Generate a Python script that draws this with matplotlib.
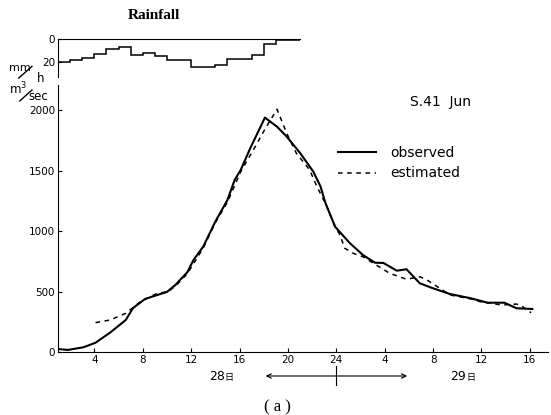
import matplotlib
matplotlib.use('Agg')
import matplotlib.pyplot as plt
from matplotlib.lines import Line2D

# hours counted from 0:00 on the 28th
rain_edges = list(range(1, 22))
rain_mm = [20, 19, 17, 13, 9, 7, 14, 12, 15, 19, 19, 25, 25, 23, 18, 18, 14, 4, 0.5, 0.5]

obs_t = [1.0, 1.8, 3.1, 4.1, 5.3, 6.6, 7.2, 8.2, 9.2, 10.0, 10.7, 11.7, 12.2, 13.0, 14.0,
         15.0, 15.6, 16.1, 16.9, 18.1, 19.1, 19.9, 21.0, 22.1, 22.7, 23.1, 23.9, 25.1,
         26.2, 27.2, 27.9, 29.0, 29.8, 30.9, 32.0, 33.4, 35.1, 36.5, 37.9, 38.9, 40.2]
obs_q = [25, 17, 39, 77, 160, 265, 364, 439, 472, 497, 555, 662, 762, 872, 1079,
         1258, 1424, 1507, 1689, 1940, 1865, 1783, 1648, 1493, 1369, 1234, 1037, 903,
         803, 739, 737, 673, 685, 569, 527, 480, 445, 408, 408, 362, 356]

est_t = [4.1, 5.3, 6.6, 7.8, 9.2, 10.1, 10.8, 11.7, 13.0, 14.0, 15.0, 16.1, 17.3, 18.1,
         19.1, 19.9, 20.7, 21.8, 22.4, 23.1, 23.9, 24.3, 24.7, 25.4, 26.2, 27.3, 28.4,
         29.8, 30.9, 31.5, 33.4, 35.3, 35.9, 37.7, 38.9, 39.4, 40.1]
est_q = [243, 265, 320, 416, 486, 499, 555, 650, 860, 1070, 1240, 1493, 1700, 1844,
         2009, 1811, 1645, 1507, 1369, 1230, 1040, 969, 859, 817, 789, 720, 652,
         602, 623, 596, 472, 436, 416, 389, 397, 375, 325]

x_ticks = [4, 8, 12, 16, 20, 24, 28, 32, 36, 40]
x_labels = ['4', '8', '12', '16', '20', '24', '4', '8', '12', '16']
y_ticks = [0, 500, 1000, 1500, 2000]

fig = plt.figure(figsize=(5.51, 4.15), dpi=100)

# main hydrograph
ax = fig.add_axes([0.1053, 0.1518, 0.8893, 0.6434])
ax.plot(obs_t, obs_q, color='black', lw=1.5, label='observed')
ax.plot(est_t, est_q, color='black', lw=1.1, dashes=(3, 3), label='estimated')
ax.set_xlim(1, 41.5)
ax.set_ylim(0, 2210)
ax.set_xticks(x_ticks)
ax.set_xticklabels(x_labels)
ax.set_yticks(y_ticks)
ax.tick_params(direction='in', labelsize=7.5, length=3, pad=2)
for s in ['top', 'right']:
    ax.spines[s].set_visible(False)
ax.legend(loc='upper left', bbox_to_anchor=(0.545, 0.82), frameon=False,
          fontsize=10, handlelength=2.8, handletextpad=1.0, labelspacing=0.5)
ax.text(0.78, 0.92, 'S.41  Jun', transform=ax.transAxes, fontsize=10, ha='center')

# rainfall hyetograph
ar = fig.add_axes([0.1053, 0.8145, 0.4392, 0.0904])
ar.stairs(rain_mm, rain_edges, color='black', lw=1.1)
ar.set_xlim(1, 21)
ar.set_ylim(34, 0)
ar.set_xticks([])
ar.set_yticks([0, 20])
ar.tick_params(direction='in', labelsize=7.5, length=3, pad=2)
for s in ['bottom', 'right']:
    ar.spines[s].set_visible(False)
fig.text(0.28, 0.962, 'Rainfall', family='Liberation Serif', fontsize=11,
         fontweight='bold', ha='center', va='center')

# unit labels
fig.text(0.036, 0.836, 'mm', fontsize=8, ha='center', va='center')
fig.text(0.074, 0.810, 'h', fontsize=8.5, ha='center', va='center')
fig.add_artist(Line2D([0.034, 0.058], [0.812, 0.840], color='black', lw=1))
fig.text(0.033, 0.785, 'm$^3$', fontsize=8.5, ha='center', va='center')
fig.text(0.070, 0.768, 'sec', fontsize=8.5, ha='center', va='center')
fig.add_artist(Line2D([0.036, 0.058], [0.757, 0.783], color='black', lw=1))

# day labels and arrow below axis
fig.text(0.394, 0.092, '28', fontsize=9, ha='center', va='center')
fig.text(0.416, 0.090, '日', family='Noto Sans CJK JP', fontsize=6.5, ha='center', va='center')
fig.text(0.832, 0.092, '29', fontsize=9, ha='center', va='center')
fig.text(0.855, 0.090, '日', family='Noto Sans CJK JP', fontsize=6.5, ha='center', va='center')
fig.add_artist(matplotlib.patches.FancyArrowPatch((0.477, 0.094), (0.744, 0.094),
                                                   arrowstyle='<->', mutation_scale=8,
                                                   color='black', lw=0.8))
fig.add_artist(Line2D([0.610, 0.610], [0.072, 0.118], color='black', lw=0.8))
fig.text(0.503, 0.019, '( a )', family='Liberation Serif', fontsize=12,
         ha='center', va='center')

fig.savefig('out.png', dpi=100)
